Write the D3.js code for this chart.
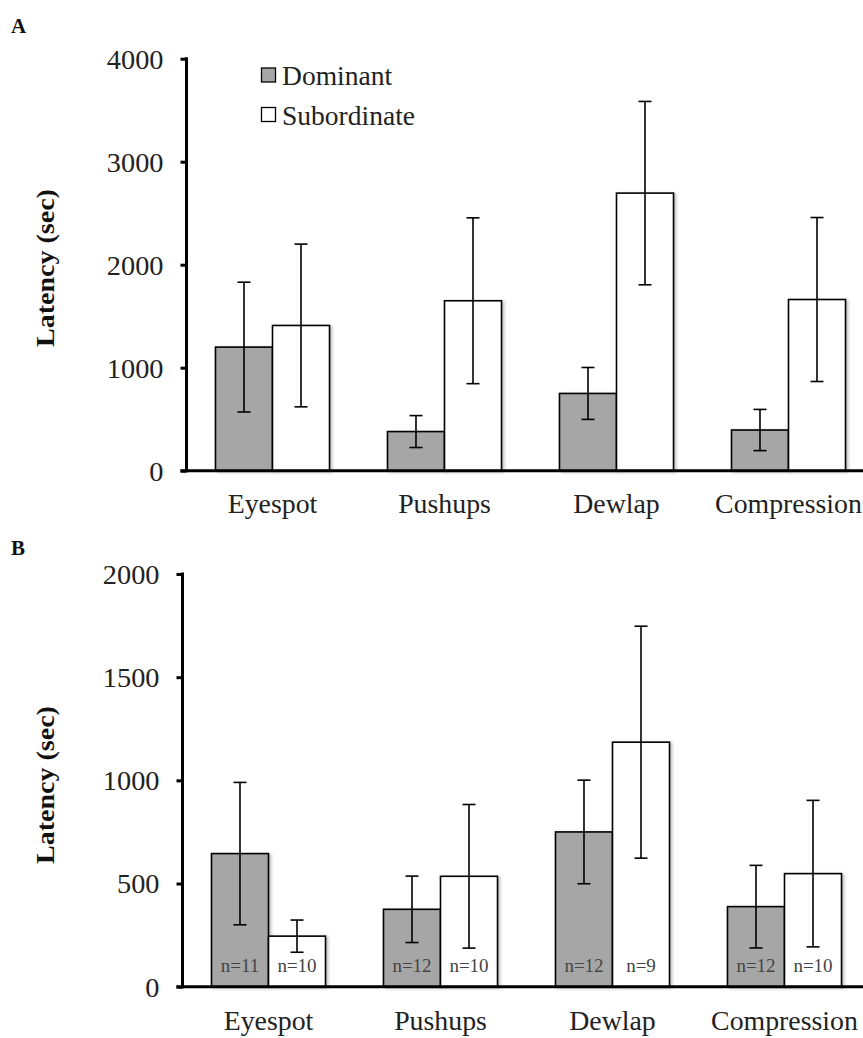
<!DOCTYPE html>
<html>
<head>
<meta charset="utf-8">
<script src="https://cdn.jsdelivr.net/npm/d3@7"></script>
<style>
  html, body { margin: 0; padding: 0; background: #fff; }
  svg { display: block; font-family: "Liberation Serif", "Times New Roman", serif; }
</style>
</head>
<body>
<svg id="chart" width="863" height="1038"></svg>
<script>
// ---- data ----
const categories = ["Eyespot", "Pushups", "Dewlap", "Compression"];
const seriesNames = ["Dominant", "Subordinate"];

const meanA_dom = [1200, 380, 750, 395];
const errA_dom  = [630, 155, 252, 200];
const meanA_sub = [1410, 1650, 2695, 1662];
const errA_sub  = [790, 805, 890, 796];

const meanB_dom = [645, 375, 750, 388];
const errB_dom  = [345, 161, 251, 200];
const meanB_sub = [245, 535, 1185, 548];
const errB_sub  = [78, 348, 562, 355];

const nB_dom = ["n=11", "n=12", "n=12", "n=12"];
const nB_sub = ["n=10", "n=10", "n=9", "n=10"];

const ticksA = [0, 1000, 2000, 3000, 4000];
const ticksB = [0, 500, 1000, 1500, 2000];

const colors = { Dominant: "#a6a6a6", Subordinate: "#ffffff" };

// widen text slightly (reference glyphs are a little stretched horizontally)
function stretch(sel, factor) {
  sel.each(function () {
    const w = this.getComputedTextLength();
    this.setAttribute("textLength", (w * factor).toFixed(2));
    this.setAttribute("lengthAdjust", "spacingAndGlyphs");
  });
}

// ---- drawing ----
const svg = d3.select("#chart");
const defs = svg.append("defs");
const f = defs.append("filter").attr("id", "shadow")
  .attr("x", "-10%").attr("y", "-10%").attr("width", "130%").attr("height", "130%");
f.append("feDropShadow").attr("dx", 2).attr("dy", 1).attr("stdDeviation", 1.5)
  .attr("flood-color", "#000").attr("flood-opacity", 0.25);

function panel(opts) {
  const g = svg.append("g");
  const y = d3.scaleLinear().domain([0, opts.ymax]).range([opts.y0, opts.yTop]);
  const x0 = d3.scaleBand().domain(categories).range([opts.xAxis, opts.xAxis + 688])
    .paddingInner(0.337).paddingOuter(0.1685);
  const x1 = d3.scaleBand().domain(seriesNames).range([0, x0.bandwidth()]);

  const rows = [];
  categories.forEach((c, i) => {
    rows.push({ c, s: "Dominant", v: opts.dom[i], e: opts.domErr[i], n: opts.nDom ? opts.nDom[i] : null });
    rows.push({ c, s: "Subordinate", v: opts.sub[i], e: opts.subErr[i], n: opts.nSub ? opts.nSub[i] : null });
  });

  // bars
  g.selectAll("rect.bar").data(rows).join("rect")
    .attr("class", "bar")
    .attr("x", d => x0(d.c) + x1(d.s))
    .attr("y", d => y(d.v))
    .attr("width", x1.bandwidth())
    .attr("height", d => y(0) - y(d.v))
    .attr("fill", d => colors[d.s])
    .attr("stroke", "#000")
    .attr("stroke-width", 1.6)
    .attr("filter", "url(#shadow)");

  // error bars
  const cap = 6.5;
  const eb = g.selectAll("g.err").data(rows).join("g").attr("class", "err")
    .attr("stroke", "#000").attr("stroke-width", 1.6);
  const cx = d => x0(d.c) + x1(d.s) + x1.bandwidth() / 2;
  eb.append("line").attr("x1", cx).attr("x2", cx)
    .attr("y1", d => y(d.v + d.e)).attr("y2", d => y(d.v - d.e));
  eb.append("line").attr("x1", d => cx(d) - cap).attr("x2", d => cx(d) + cap)
    .attr("y1", d => y(d.v + d.e)).attr("y2", d => y(d.v + d.e));
  eb.append("line").attr("x1", d => cx(d) - cap).attr("x2", d => cx(d) + cap)
    .attr("y1", d => y(d.v - d.e)).attr("y2", d => y(d.v - d.e));

  // n labels
  if (opts.nDom) {
    const nt = g.selectAll("text.n").data(rows).join("text").attr("class", "n")
      .attr("x", cx).attr("y", opts.y0 - 15)
      .attr("text-anchor", "middle")
      .attr("font-size", 19).attr("fill", "#444")
      .text(d => d.n);
  }

  // y axis
  const ya = g.append("g").attr("transform", `translate(${opts.xAxis},0)`)
    .call(d3.axisLeft(y).tickValues(opts.ticks).tickSize(6).tickSizeOuter(0).tickPadding(17).tickFormat(d3.format("d")));
  ya.select(".domain").remove();
  ya.selectAll(".tick line").attr("stroke", "#000").attr("stroke-width", 3);
  const tt = ya.selectAll(".tick text").attr("font-size", 27).attr("fill", "#222")
    .attr("font-family", "Liberation Serif, Times New Roman, serif").attr("dy", "0.35em");
  stretch(tt, 1.05);
  g.append("line").attr("x1", opts.xAxis).attr("x2", opts.xAxis)
    .attr("y1", y(opts.ymax) - 1.5).attr("y2", opts.y0 + 1.5)
    .attr("stroke", "#000").attr("stroke-width", 3);

  // x axis
  g.append("line").attr("x1", opts.xAxis - 6).attr("x2", 863)
    .attr("y1", opts.y0).attr("y2", opts.y0)
    .attr("stroke", "#000").attr("stroke-width", 3);
  const xa = g.append("g").attr("transform", `translate(0,${opts.y0})`)
    .call(d3.axisBottom(x0).tickSize(0).tickPadding(0));
  xa.select(".domain").remove();
  const xt = xa.selectAll(".tick text").attr("font-size", 27).attr("fill", "#222")
    .attr("font-family", "Liberation Serif, Times New Roman, serif")
    .attr("dy", 0).attr("y", opts.catBaseline - opts.y0);
  stretch(xt, 1.03);

  // y label
  const yl = g.append("text")
    .attr("transform", `translate(${opts.labelX},${opts.labelY}) rotate(-90)`)
    .attr("text-anchor", "middle")
    .attr("font-size", 25).attr("font-weight", "bold").attr("fill", "#111")
    .text("Latency (sec)");
  stretch(yl, 1.12);

  // panel letter
  g.append("text").attr("x", 11).attr("y", opts.letterY)
    .attr("font-size", 21).attr("font-weight", "bold").attr("fill", "#111")
    .text(opts.letter);
  return { g, y, x0 };
}

panel({
  letter: "A", letterY: 33,
  xAxis: 186.5, y0: 470.7, yTop: 58.7, ymax: 4000, ticks: ticksA,
  dom: meanA_dom, domErr: errA_dom, sub: meanA_sub, subErr: errA_sub,
  catBaseline: 513, labelX: 54, labelY: 268
});

panel({
  letter: "B", letterY: 555,
  xAxis: 182.5, y0: 986.7, yTop: 574, ymax: 2000, ticks: ticksB,
  dom: meanB_dom, domErr: errB_dom, sub: meanB_sub, subErr: errB_sub,
  nDom: nB_dom, nSub: nB_sub,
  catBaseline: 1030, labelX: 54, labelY: 785
});

// legend
const legend = svg.append("g");
seriesNames.forEach((s, i) => {
  const ly = 68 + i * 39.5;
  legend.append("rect").attr("x", 261.5).attr("y", ly).attr("width", 14).attr("height", 14)
    .attr("fill", colors[s]).attr("stroke", "#000").attr("stroke-width", 1.3);
  const t = legend.append("text").attr("x", 282).attr("y", ly + 17)
    .attr("font-size", 27).attr("fill", "#222").text(s);
  stretch(t, 1.02);
});
</script>
</body>
</html>
